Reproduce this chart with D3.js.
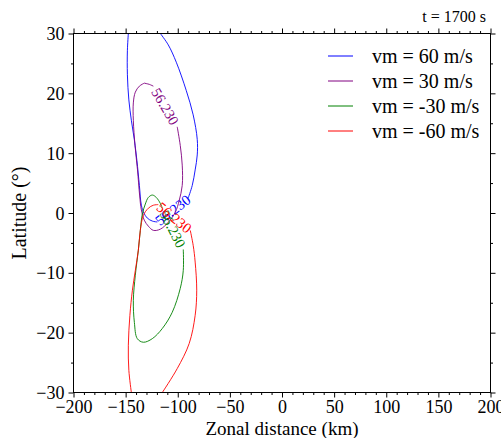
<!DOCTYPE html>
<html>
<head>
<meta charset="utf-8">
<style>
body { margin: 0; background: #fff; }
svg { font-family: "Liberation Serif", "Times New Roman", serif; }
.axis path { display: none; }
.axis line { stroke: #000; }
</style>
</head>
<body>
<script src="https://cdn.jsdelivr.net/npm/d3@7/dist/d3.min.js"></script>
<script>
// ticks
var xMajor = [-200, -150, -100, -50, 0, 50, 100, 150, 200];
var yMajor = [-30, -20, -10, 0, 10, 20, 30];
var xMinor = d3.range(-200, 201, 10).filter(function(v) { return xMajor.indexOf(v) < 0; });
var yMinor = d3.range(-30, 31, 5).filter(function(v) { return yMajor.indexOf(v) < 0; });

// contour lines (km, deg); null = gap where the label sits
var vm60 = [[-147.4,30],[-148.3,27.2],[-148.3,23.1],[-146.9,18.9],[-144.5,15.5],[-141.6,12.2],[-139.2,8.8],
  [-136.8,4.6],[-134.9,1.3],[-132.5,0],[-129.2,-0.85],[-124.4,-1.35],[-119.6,-1.5], null,
  [-90,2.5],[-86.1,4.6],[-83.3,7.2],[-81.3,9.7],[-81.3,12.3],[-85.2,16.4],[-91.9,20.5],[-101.4,25.2],[-109.1,28.1],[-116.7,30]];
var vm30 = [[-132.1,21.7],[-127.3,21.5],[-123.4,21.2], null,
  [-100.5,14.4],[-97.6,11.3],[-95.7,8.0],[-95.7,4.6],[-98.6,2.1],[-102.4,0.1],[-109.1,-1.55],[-116.7,-2.7],
  [-123.4,-2.9],[-128.2,-2.2],[-132.1,-1.2],[-134.9,0.5],[-136.6,3.0],[-138.6,7.2],[-141,11.3],[-142.6,15.5],
  [-142.6,18.4],[-140.7,20.2],[-136.8,21.2],[-132.1,21.7]];
var vm_30 = [[-114.8,0.8],[-116.7,1.6],[-120.6,2.6],[-124.4,3.0],[-128.2,2.6],[-131.1,1.5],[-134,-0.2],[-135.9,-2.9],
  [-137.8,-6.2],[-140.7,-10.4],[-142.6,-14.6],[-141.6,-18.3],[-138.8,-21.0],[-133,-21.6],[-124.4,-21.0],
  [-114.8,-19.3],[-105.3,-16.6],[-97.6,-12.6],[-94.7,-9.6],[-94.7,-6.1]];
var vm_60 = [[-144.5,-30],[-146.9,-26.3],[-147.4,-22.1],[-145.9,-17.1],[-143.5,-12.9],[-140.7,-9.6],[-137.8,-6.2],
  [-135.9,-2.9],[-133,-0.4],[-128.2,0.8],[-123.4,1.3],[-118.7,1.4], null,
  [-88,-2.9],[-85.2,-5.4],[-83.3,-8.2],[-81.8,-12.9],[-83.3,-17.1],[-89,-21.8],[-100.5,-26.0],[-114.8,-30]];

var names = ["vm = 60 m/s", "vm = 30 m/s", "vm = -30 m/s", "vm = -60 m/s"];
var colors = ["#0000ff", "#800080", "#008000", "#ff0000"];
var lines = [vm60, vm30, vm_30, vm_60];
var level = "56.230";

var width = 501, height = 438;
var svg = d3.select("body").append("svg")
  .attr("width", width)
  .attr("height", height);

var x = d3.scaleLinear().domain([-200, 200]).range([73.5, 490.5]);
var y = d3.scaleLinear().domain([-30, 30]).range([392.5, 33.5]);

svg.append("defs").append("clipPath").attr("id", "plot")
  .append("rect")
  .attr("x", x(-200)).attr("y", y(30))
  .attr("width", x(200) - x(-200)).attr("height", y(-30) - y(30));

var line = d3.line()
  .defined(function(d) { return d !== null; })
  .x(function(d) { return x(d[0]); })
  .y(function(d) { return y(d[1]); })
  .curve(d3.curveCatmullRom);

var plot = svg.append("g").attr("clip-path", "url(#plot)");

lines.forEach(function(pts, i) {
  plot.append("path")
    .attr("d", line(pts))
    .attr("fill", "none")
    .attr("stroke", colors[i])
    .attr("stroke-width", 0.9);

  // label in the gap (gap is between end/start when no null)
  var k = pts.indexOf(null), a, b;
  if (k >= 0) { a = pts[k - 1]; b = pts[k + 1]; }
  else { a = pts[pts.length - 1]; b = pts[0]; }
  var ax = x(a[0]), ay = y(a[1]), bx = x(b[0]), by = y(b[1]);
  var ang = Math.atan2(by - ay, bx - ax) * 180 / Math.PI;
  if (ang > 90) ang -= 180;
  if (ang < -90) ang += 180;
  plot.append("text")
    .attr("transform", "translate(" + ((ax + bx) / 2) + "," + ((ay + by) / 2) + ") rotate(" + ang + ")")
    .attr("text-anchor", "middle")
    .attr("dy", "0.35em")
    .attr("fill", colors[i])
    .style("font-size", "14.5px")
    .text(level);
});

// axes, ticks outward on all sides
function addAxis(axisFn, scale, major, minor, tr, labels) {
  var g = svg.append("g").attr("class", "axis").attr("transform", tr);
  g.call(axisFn(scale).tickValues(minor).tickSize(2.5).tickSizeOuter(0).tickFormat(""));
  var g2 = svg.append("g").attr("class", "axis").attr("transform", tr);
  var ax = axisFn(scale).tickValues(major).tickSize(5).tickSizeOuter(0).tickPadding(4);
  if (!labels) ax.tickFormat("");
  g2.call(ax);
  g2.selectAll("text").style("font-size", "18px").style("font-family", "Liberation Serif, serif").attr("fill", "#000");
  return g2;
}
addAxis(d3.axisBottom, x, xMajor, xMinor, "translate(0," + y(-30) + ")", true)
  .selectAll("text").attr("y", 8);
addAxis(d3.axisTop, x, xMajor, xMinor, "translate(0," + y(30) + ")", false);
addAxis(d3.axisLeft, y, yMajor, yMinor, "translate(" + x(-200) + ",0)", true)
  .selectAll("text").attr("dy", "0.34em");
addAxis(d3.axisRight, y, yMajor, yMinor, "translate(" + x(200) + ",0)", false);

svg.append("rect")
  .attr("x", x(-200)).attr("y", y(30))
  .attr("width", x(200) - x(-200)).attr("height", y(-30) - y(30))
  .attr("fill", "none").attr("stroke", "#000").attr("stroke-width", 1);

// titles
svg.append("text")
  .attr("x", (x(-200) + x(200)) / 2).attr("y", 434.5)
  .attr("text-anchor", "middle")
  .style("font-size", "19px")
  .text("Zonal distance (km)");

svg.append("text")
  .attr("transform", "translate(26," + ((y(30) + y(-30)) / 2) + ") rotate(-90)")
  .attr("text-anchor", "middle")
  .style("font-size", "20px")
  .text("Latitude (°)");

svg.append("text")
  .attr("x", 486).attr("y", 22)
  .attr("text-anchor", "end")
  .style("font-size", "16px")
  .text("t = 1700 s");

// legend
var leg = svg.append("g");
names.forEach(function(n, i) {
  var ly = 56 + i * 25;
  leg.append("line")
    .attr("x1", 328).attr("x2", 353).attr("y1", ly).attr("y2", ly)
    .attr("stroke", colors[i]).attr("stroke-width", 1);
  leg.append("text")
    .attr("x", 372).attr("y", ly).attr("dy", "0.35em")
    .style("font-size", "20px")
    .text(n);
});
</script>
</body>
</html>
